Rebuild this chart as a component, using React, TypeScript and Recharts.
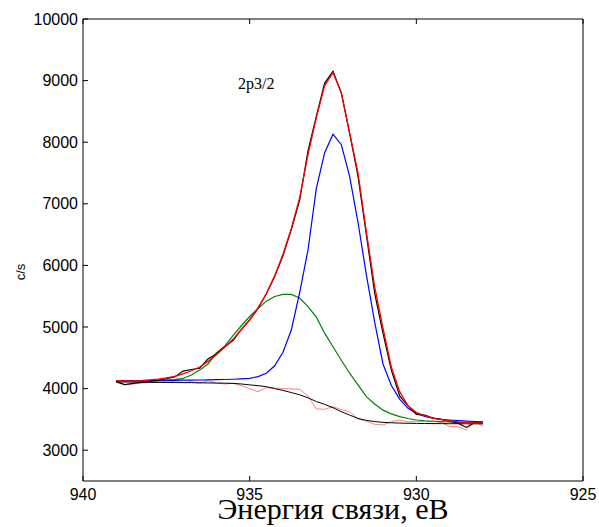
import React from 'react';
import { LineChart, Line, XAxis, YAxis, ReferenceDot } from 'recharts';

// binding energy, eV (0.25 eV step)
const energy = [
  939, 938.75, 938.5, 938.25, 938, 937.75, 937.5, 937.25, 937, 936.75, 936.5, 936.25,
  936, 935.75, 935.5, 935.25, 935, 934.75, 934.5, 934.25, 934, 933.75, 933.5, 933.25,
  933, 932.75, 932.5, 932.25, 932, 931.75, 931.5, 931.25, 931, 930.75, 930.5, 930.25,
  930, 929.75, 929.5, 929.25, 929, 928.75, 928.5, 928.25, 928,
];

const experimental = [
  4110, 4065, 4085, 4100, 4115, 4135, 4160, 4190, 4285, 4310, 4330, 4480,
  4560, 4680, 4780, 4960, 5110, 5300, 5540, 5820, 6160, 6580, 7060, 7860,
  8420, 8960, 9150, 8800, 8140, 7450, 6500, 5550, 4900, 4300, 3880, 3720,
  3580, 3570, 3520, 3500, 3470, 3440, 3370, 3450, 3440,
];

const fitSum = [
  4130, 4125, 4125, 4130, 4140, 4155, 4175, 4200, 4240, 4290, 4350, 4440,
  4550, 4670, 4800, 4960, 5120, 5310, 5540, 5830, 6180, 6600, 7100, 7800,
  8400, 8920, 9130, 8800, 8150, 7500, 6550, 5650, 4980, 4350, 3950, 3720,
  3610, 3560, 3520, 3495, 3475, 3460, 3450, 3445, 3440,
];

const mainPeak = [
  4130, 4130, 4130, 4131, 4132, 4133, 4134, 4135, 4136, 4138, 4140, 4142,
  4145, 4148, 4152, 4158, 4167, 4195, 4250, 4370, 4590, 4950, 5560, 6250,
  7250, 7830, 8130, 7960, 7440, 6700, 5850, 5080, 4400, 4050, 3830, 3680,
  3600, 3550, 3520, 3500, 3490, 3480, 3472, 3466, 3460,
];

const satellite = [
  4110, 4112, 4115, 4118, 4122, 4130, 4140, 4145, 4165, 4220, 4300, 4400,
  4580, 4690, 4860, 5020, 5170, 5300, 5420, 5495, 5530, 5530, 5470, 5330,
  5160, 4900, 4680, 4460, 4250, 4060, 3870, 3750, 3650, 3590, 3545, 3515,
  3490, 3478, 3470, 3464, 3458, 3452, 3447, 3442, 3438,
];

const background = [
  4110, 4108, 4106, 4104, 4102, 4100, 4099, 4098, 4097, 4096, 4094, 4092,
  4090, 4088, 4085, 4075, 4060, 4048, 4031, 4000, 3970, 3935, 3900, 3850,
  3790, 3745, 3690, 3625, 3570, 3515, 3485, 3465, 3452, 3445, 3440, 3437,
  3435, 3433, 3432, 3431, 3430, 3430, 3429, 3428, 3428,
];

const residual = [
  4130, 4060, 4075, 4090, 4100, 4110, 4115, 4112, 4100, 4110, 4086, 4128,
  4090, 4075, 4086, 4050, 4000, 3950, 4015, 4010, 4000, 3995, 3988, 3880,
  3670, 3665, 3706, 3660, 3625, 3510, 3470, 3420, 3410, 3463, 3490, 3460,
  3470, 3465, 3470, 3450, 3385, 3382, 3328, 3463, 3393,
];

const xTicks = [940, 935, 930, 925];
const yTicks = [3000, 4000, 5000, 6000, 7000, 8000, 9000, 10000];

const data = energy.map((e, i) => ({
  e,
  exp: experimental[i],
  fit: fitSum[i],
  main: mainPeak[i],
  sat: satellite[i],
  bg: background[i],
  res: residual[i],
}));

const sans = 'Liberation Sans, Arial, sans-serif';
const serif = 'Liberation Serif, Times New Roman, serif';
const TICK = 5; // inward tick length

// matlab-style ticks: labels outside, short marks pointing into the plot
const LeftTick = (props: any) => {
  const { x, y, payload } = props;
  return (
    <g>
      <line x1={x + 5} x2={x + 5 + TICK} y1={y} y2={y} stroke="#000" />
      <text x={x} y={y} dy="0.35em" textAnchor="end" fontFamily={sans} fontSize={16} fill="#000">
        {payload.value}
      </text>
    </g>
  );
};

const BottomTick = (props: any) => {
  const { x, y, payload } = props;
  return (
    <g>
      <line x1={x} x2={x} y1={y - 7} y2={y - 7 - TICK} stroke="#000" />
      <text x={x} y={y} dy="0.72em" textAnchor="middle" fontFamily={sans} fontSize={16} fill="#000">
        {payload.value}
      </text>
    </g>
  );
};

const RightTick = (props: any) => {
  const { x, y } = props;
  return <line x1={x} x2={x - TICK} y1={y} y2={y} stroke="#000" />;
};

const TopTick = (props: any) => {
  const { x, y } = props;
  return <line x1={x} x2={x} y1={y} y2={y + TICK} stroke="#000" />;
};

export default function App() {
  return (
    <div style={{ position: 'absolute', left: 0, top: 0, background: '#fff' }}>
      <LineChart width={599} height={527} data={data} margin={{ top: 18, right: 15, left: 0, bottom: 0 }}>
        <XAxis
          xAxisId="b"
          dataKey="e"
          type="number"
          domain={[925, 940]}
          reversed
          ticks={xTicks}
          height={46}
          tickLine={false}
          tickSize={0}
          tickMargin={7}
          stroke="#000"
          tick={<BottomTick />}
          label={{
            value: 'Энергия связи, eВ',
            position: 'center',
            dx: 0,
            dy: 4,
            style: { fontFamily: serif, fontSize: 30, fill: '#000' },
          }}
        />
        <XAxis
          xAxisId="t"
          dataKey="e"
          type="number"
          orientation="top"
          domain={[925, 940]}
          reversed
          ticks={xTicks}
          height={1}
          tickLine={false}
          tickSize={0}
          tickMargin={0}
          tick={<TopTick />}
          stroke="#000"
        />
        <YAxis
          yAxisId="l"
          type="number"
          domain={[2500, 10000]}
          ticks={yTicks}
          width={83}
          tickLine={false}
          tickSize={0}
          tickMargin={5}
          stroke="#000"
          tick={<LeftTick />}
          label={{
            value: 'c/s',
            angle: -90,
            position: 'center',
            dx: -21,
            dy: 22,
            style: { fontFamily: sans, fontSize: 13, fill: '#000' },
          }}
        />
        <YAxis
          yAxisId="r"
          type="number"
          orientation="right"
          domain={[2500, 10000]}
          ticks={yTicks}
          width={1}
          tickLine={false}
          tickSize={0}
          tickMargin={0}
          tick={<RightTick />}
          stroke="#000"
        />
        <Line xAxisId="b" yAxisId="l" dataKey="res" stroke="#ff8080" strokeWidth={1} dot={false} isAnimationActive={false} />
        <Line xAxisId="b" yAxisId="l" dataKey="bg" stroke="#000" strokeWidth={1} dot={false} isAnimationActive={false} />
        <Line xAxisId="b" yAxisId="l" dataKey="sat" stroke="#008000" strokeWidth={1.2} dot={false} isAnimationActive={false} />
        <Line xAxisId="b" yAxisId="l" dataKey="main" stroke="#0000ff" strokeWidth={1.2} dot={false} isAnimationActive={false} />
        <Line xAxisId="b" yAxisId="l" dataKey="exp" stroke="#000" strokeWidth={1.2} dot={false} isAnimationActive={false} />
        <Line xAxisId="b" yAxisId="l" dataKey="fit" stroke="#ff0000" strokeWidth={1.3} dot={false} isAnimationActive={false} />
        <ReferenceDot
          xAxisId="b"
          yAxisId="l"
          x={934.8}
          y={8960}
          r={0}
          fill="none"
          stroke="none"
          label={{
            value: '2p3/2',
            position: 'center',
            style: { fontFamily: serif, fontSize: 16, fill: '#000' },
          }}
        />
      </LineChart>
    </div>
  );
}
